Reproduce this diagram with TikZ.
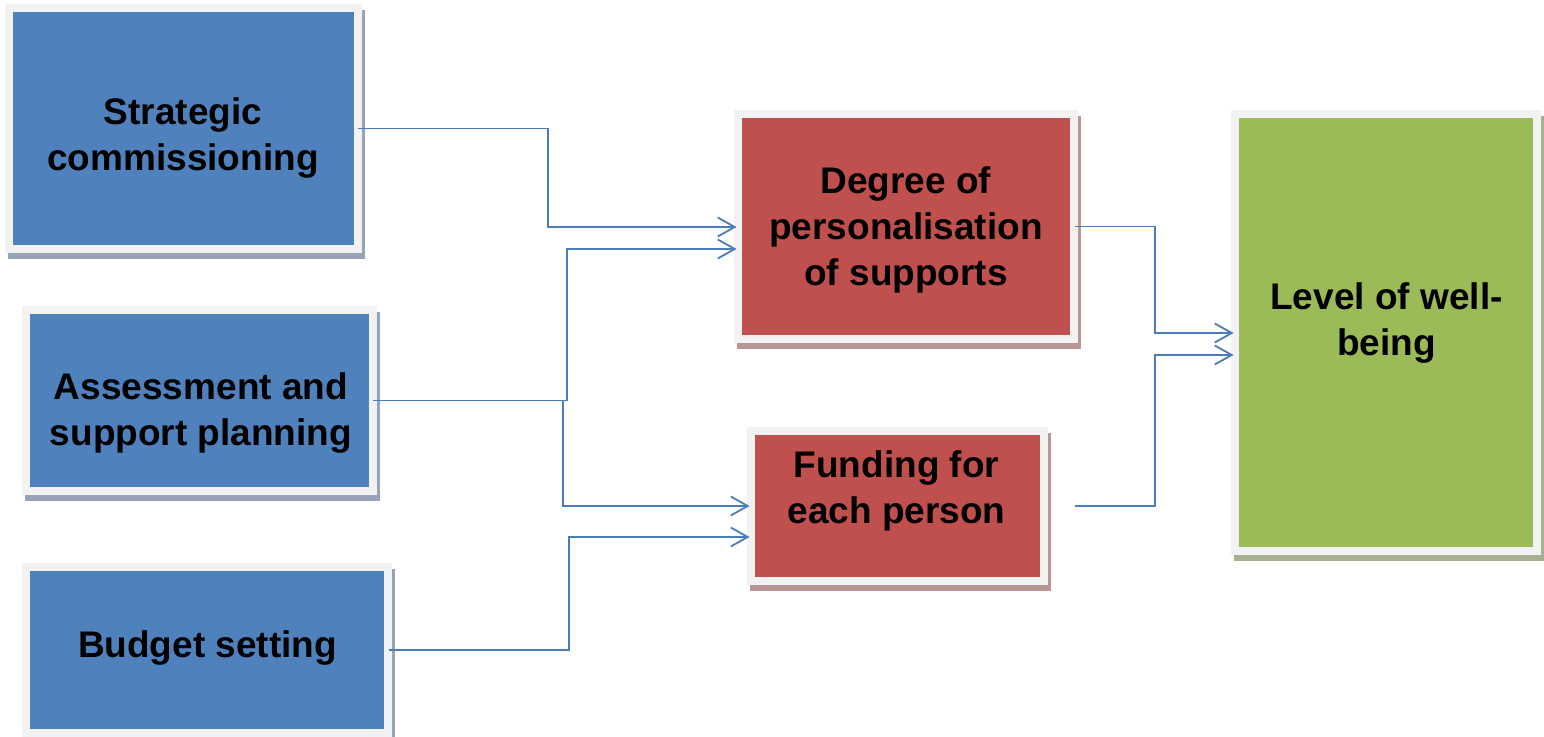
\documentclass[tikz,border=0pt]{standalone}
\usepackage{fontspec}
\setmainfont{Liberation Sans}
\usetikzlibrary{arrows.meta,shadows}
\definecolor{fblue}{HTML}{4F81BD}
\definecolor{fred}{HTML}{C0504D}
\definecolor{fgreen}{HTML}{9BBB59}
\definecolor{boxframe}{HTML}{F2F2F2}
\definecolor{shblue}{HTML}{97A3B6}
\definecolor{shred}{HTML}{B99595}
\definecolor{shgreen}{HTML}{A8B092}
\definecolor{conncol}{HTML}{4A7EBB}
\tikzset{
  box/.style 2 args={rectangle, fill=boxframe, draw=none, inner sep=0pt,
    drop shadow={shadow xshift=1.5pt, shadow yshift=-3pt, fill=#2, opacity=1},
    path picture={\fill[#1] ([shift={(4pt,4pt)}]path picture bounding box.south west)
      rectangle ([shift={(-4pt,-4pt)}]path picture bounding box.north east);}},
  lbl/.style={align=center, inner sep=0pt, font=\bfseries\fontsize{18.5}{23}\selectfont},
  conn/.style={draw=conncol, line width=0.9pt, -{Straight Barb[length=8.5pt,width=9.5pt]},
    shorten >=-1.5pt, shorten <=-2pt}
}
\begin{document}
\begin{tikzpicture}[x=0.5pt,y=-0.5pt]
\useasboundingbox (0,0) rectangle (1544,737);
% boxes
\node[box={fblue}{shblue}, minimum width=178.5pt, minimum height=124.5pt] (s) at (183.5,128.5) {};
\node[box={fblue}{shblue}, minimum width=177.5pt, minimum height=94.5pt] (a) at (199.5,400.5) {};
\node[box={fblue}{shblue}, minimum width=185pt, minimum height=87pt] (b) at (207,650) {};
\node[box={fred}{shred}, minimum width=172pt, minimum height=116.5pt] (d) at (906,226.5) {};
\node[box={fred}{shred}, minimum width=150.5pt, minimum height=79pt] (f) at (897.5,506) {};
\node[box={fgreen}{shgreen}, minimum width=155pt, minimum height=222.5pt] (l) at (1386,332.5) {};
% labels
\node[lbl] (ts) at (183,138) {Strategic\\commissioning};
\node[lbl] (ta) at (201,413.5) {Assessment and\\support planning};
\node[lbl] (tb) at (207.5,648) {Budget setting};
\node[lbl] (td) at (906,230) {Degree of\\personalisation\\of supports};
\node[lbl] (tf) at (896.5,490.5) {Funding for\\each person};
\node[lbl] (tl) at (1386.5,323) {Level of well-\\being};
% connectors
\draw[conn] (s.east) -| (548,227) -- (d.west |- 0,227);
\draw[conn] (a.east) -| (567,249) -- (d.west |- 0,249);
\draw[conn] (a.east) -| (563,506) -- (f.west |- 0,506);
\draw[conn, shorten <=-1.5pt] (b.east) -| (569,537) -- (f.west |- 0,537);
\draw[conn, shorten <=-1.5pt] (d.east) -| (1155,333) -- (l.west |- 0,333);
\draw[conn, shorten <=13.5pt] (f.east) -| (1155,355) -- (l.west |- 0,355);
\end{tikzpicture}
\end{document}
